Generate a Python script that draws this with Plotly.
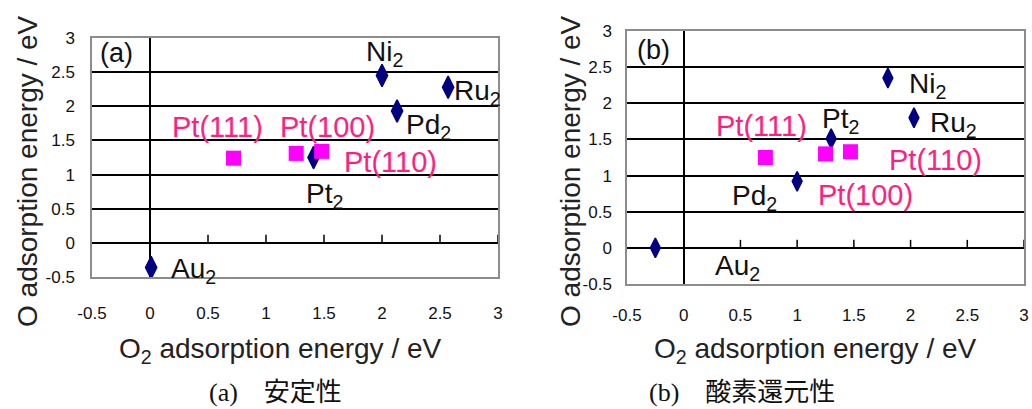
import plotly.graph_objects as go

# ---------------- data ----------------
metal_names = ["Au<sub>2</sub>", "Ni<sub>2</sub>", "Ru<sub>2</sub>", "Pd<sub>2</sub>", "Pt<sub>2</sub>"]
pt_names = ["Pt(111)", "Pt(100)", "Pt(110)"]

a_metal_x = [0.01, 2.00, 2.57, 2.13, 1.41]
a_metal_y = [-0.36, 2.45, 2.28, 1.93, 1.25]
a_pt_x = [0.72, 1.26, 1.48]
a_pt_y = [1.24, 1.31, 1.34]

b_metal_x = [-0.25, 1.80, 2.03, 1.00, 1.30]
b_metal_y = [0.00, 2.35, 1.80, 0.92, 1.51]
b_pt_x = [0.72, 1.25, 1.47]
b_pt_y = [1.25, 1.30, 1.33]

tick_vals = [-0.5, 0, 0.5, 1, 1.5, 2, 2.5, 3]
tick_text = ["-0.5", "0", "0.5", "1", "1.5", "2", "2.5", "3"]

x_title = "O<sub>2</sub> adsorption energy / eV"
y_title = "O adsorption energy / eV"
captions = ["(a)\u3000安定性", "(b)\u3000酸素還元性"]
panel_tags = ["(a)", "(b)"]

# ---------------- style ----------------
W, H = 1032, 409
NAVY = "#000080"
MAG = "#FF00FF"
PINK = "#FF1E82"
SANS = "Liberation Sans, Arial, sans-serif"
LBL_FONT = dict(family=SANS, size=28, color="#111111")
PINK_FONT = dict(family=SANS, size=29, color=PINK)
TICK_FONT = dict(family="Liberation Sans Narrow, Liberation Sans, Arial, sans-serif", size=17, color="#111111")
CAP_FONT = dict(family="Liberation Serif, Noto Sans CJK JP, serif", size=26, color="#111111")

# label offsets (pixels) per panel: (xanchor, xshift, yshift)
a_metal_off = [("left", 18, -3), ("center", 2, 22), ("left", 4, -5), ("left", 7, -15), ("left", -10, -38)]
a_pt_off = [("center", -16, 31), ("center", 31, 26), ("left", 20, -11)]
b_metal_off = [("left", 58, -20), ("left", 19, -8), ("left", 14, -7), ("right", -18, -16), ("left", -11, 18)]
b_pt_off = [("center", -4, 31), ("left", -10, -41), ("left", 37, -8)]

# domains from pixel boxes
def dom_x(l, r):
    return [l / W, r / W]

def dom_y(t, b):
    return [1 - b / H, 1 - t / H]

panels = [
    dict(xd=dom_x(92, 498), yd=dom_y(38, 277), mx=a_metal_x, my=a_metal_y, px=a_pt_x, py=a_pt_y,
         moff=a_metal_off, poff=a_pt_off, tag_xy=(116, 53), ytitle_x=27, xtitle_x=280, cap_x=275,
         xstand=20, ystand=12, msize=16),
    dict(xd=dom_x(627, 1024), yd=dom_y(31, 284), mx=b_metal_x, my=b_metal_y, px=b_pt_x, py=b_pt_y,
         moff=b_metal_off, poff=b_pt_off, tag_xy=(653, 50), ytitle_x=570, xtitle_x=815, cap_x=742,
         xstand=15, ystand=10, msize=14),
]

fig = go.Figure()
annotations = []
shapes = []

for i, p in enumerate(panels):
    sfx = "" if i == 0 else str(i + 1)
    xref, yref = "x" + sfx, "y" + sfx
    fig.add_trace(go.Scatter(x=p["mx"], y=p["my"], mode="markers", xaxis=xref, yaxis=yref,
                             marker=dict(symbol="diamond-tall", size=p["msize"], color=NAVY,
                                         line=dict(color=NAVY, width=1.5)), showlegend=False))
    fig.add_trace(go.Scatter(x=p["px"], y=p["py"], mode="markers", xaxis=xref, yaxis=yref,
                             marker=dict(symbol="square", size=15, color=MAG), showlegend=False))
    for name, x, y, (xa, xs, ys) in zip(metal_names, p["mx"], p["my"], p["moff"]):
        annotations.append(dict(x=x, y=y, xref=xref, yref=yref, text=name, showarrow=False,
                                xanchor=xa, yanchor="middle", xshift=xs, yshift=ys, font=LBL_FONT))
    for name, x, y, (xa, xs, ys) in zip(pt_names, p["px"], p["py"], p["poff"]):
        annotations.append(dict(x=x, y=y, xref=xref, yref=yref, text=name, showarrow=False,
                                xanchor=xa, yanchor="middle", xshift=xs, yshift=ys, font=PINK_FONT))
    # small ticks on the y=0 axis line
    for tv in tick_vals[2:]:
        shapes.append(dict(type="line", xref=xref, yref=yref, x0=tv, x1=tv, ysizemode="pixel", yanchor=0,
                           y0=0, y1=8, line=dict(color="black", width=1.5)))
    tx, ty = p["tag_xy"]
    annotations.append(dict(x=tx / W, y=1 - ty / H, xref="paper", yref="paper", text=panel_tags[i],
                            showarrow=False, xanchor="center", yanchor="middle",
                            font=dict(family=SANS, size=27, color="#111111")))
    annotations.append(dict(x=p["ytitle_x"] / W, y=1 - 171 / H, xref="paper", yref="paper", text=y_title,
                            textangle=-90, showarrow=False, xanchor="center", yanchor="middle",
                            font=dict(family=SANS, size=28, color="#222222")))
    annotations.append(dict(x=p["xtitle_x"] / W, y=1 - 350 / H, xref="paper", yref="paper", text=x_title,
                            showarrow=False, xanchor="center", yanchor="middle",
                            font=dict(family=SANS, size=28, color="#222222")))
    annotations.append(dict(x=p["cap_x"] / W, y=1 - 392 / H, xref="paper", yref="paper", text=captions[i],
                            showarrow=False, xanchor="center", yanchor="middle", font=CAP_FONT))

    fig.layout["xaxis" + sfx] = dict(domain=p["xd"], range=[-0.5, 3], anchor=yref, tickmode="array",
                                     tickvals=tick_vals, ticktext=tick_text, showgrid=False,
                                     zeroline=True, zerolinecolor="black", zerolinewidth=1.5,
                                     showline=True, mirror=True, linecolor="#8c8c8c", linewidth=1.5,
                                     ticks="", tickfont=TICK_FONT, ticklabelstandoff=p["xstand"],
                                     automargin=False, fixedrange=True)
    fig.layout["yaxis" + sfx] = dict(domain=p["yd"], range=[-0.5, 3], anchor=xref, tickmode="array",
                                     tickvals=tick_vals, ticktext=tick_text, showgrid=True, gridcolor="black",
                                     gridwidth=1.5, zeroline=True, zerolinecolor="black", zerolinewidth=1.5,
                                     showline=True, mirror=True, linecolor="#8c8c8c", linewidth=1.5,
                                     ticks="", tickfont=TICK_FONT, ticklabelstandoff=p["ystand"],
                                     automargin=False, fixedrange=True)

fig.update_layout(width=W, height=H, margin=dict(l=0, r=0, t=0, b=0, autoexpand=False), paper_bgcolor="white",
                  plot_bgcolor="white", annotations=annotations, shapes=shapes, showlegend=False)

fig.write_html("out.html", config={"displayModeBar": False},
               post_script="document.body.style.margin='0';document.body.style.overflow='hidden';")
